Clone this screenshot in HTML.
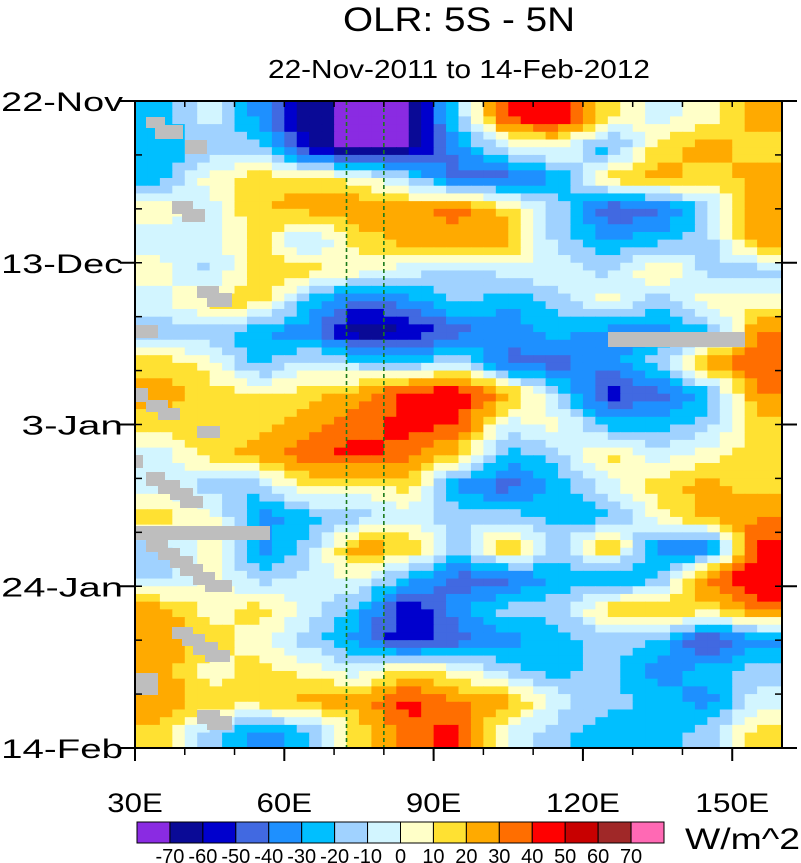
<!DOCTYPE html>
<html><head><meta charset="utf-8">
<style>
body{margin:0;background:#fff;}
svg{display:block;font-family:"Liberation Sans",Arial,sans-serif;}
</style></head>
<body>
<svg id="chart" width="801" height="863" viewBox="0 0 801 863" xmlns="http://www.w3.org/2000/svg">
<text x="459" y="31" font-size="34" text-anchor="middle" textLength="232" lengthAdjust="spacingAndGlyphs">OLR: 5S - 5N</text>
<text x="459" y="78" font-size="26" text-anchor="middle" textLength="382" lengthAdjust="spacingAndGlyphs">22-Nov-2011 to 14-Feb-2012</text>
<g id="field"></g>
<g id="missing" fill="#bebebe"></g>
<g id="axes"></g>
<g id="cbar"></g>
<text x="685" y="849" font-size="30" textLength="115" lengthAdjust="spacingAndGlyphs">W/m^2</text>
</svg>
<script>
const lons = [35,45,55,65,75,85,95,105,115,125,135,145,155];
const days = [2,6,10,14,18,22,26,30,34,38,42,46,50,54,58,62,66,70,74,78,82];
const olr = [
[-25,-5,-35,-65,-75,-75,-15,45,50,15,-5,5,25],
[-30,-15,-15,-65,-75,-70,-35,-5,5,-30,15,25,15],
[-25,5,15,15,5,-15,-45,-45,-30,15,25,15,25],
[5,-5,20,25,30,25,35,15,-15,-50,-45,-15,25],
[-5,-5,15,-15,15,25,25,25,-15,-30,-25,-15,25],
[5,-15,20,15,5,-5,-15,-5,0,-15,15,-15,-15],
[-5,15,15,-25,-45,-35,-15,-30,-15,5,-20,5,5],
[-15,-15,-30,-35,-70,-60,-45,-35,-25,-35,-35,-25,30],
[15,5,-25,-5,-15,-25,-5,-45,-45,-35,-15,25,40],
[25,15,10,15,25,45,50,25,-15,-55,-45,-25,30],
[15,15,15,25,35,45,40,-5,5,-25,-25,-15,15],
[-5,15,25,35,45,35,15,-25,-15,15,-5,5,15],
[-5,-15,-15,15,5,15,-35,-45,-25,-5,15,25,15],
[15,5,-35,-25,-15,-5,-15,-15,-25,-25,5,25,30],
[-15,5,-35,-15,30,20,-15,25,-15,25,-35,-45,45],
[-15,5,-15,-5,0,-25,-45,-45,-25,-35,-25,35,50],
[25,5,15,-5,-25,-60,-35,-15,-15,15,25,15,35],
[30,15,5,-15,-35,-60,-45,-35,-25,-15,-20,-55,-35],
[25,5,15,5,-5,15,5,-15,-25,-15,-35,-25,-15],
[30,15,15,25,25,45,30,25,-5,-15,-25,-35,-5],
[15,-15,-35,-25,15,35,45,-5,-15,-30,-25,-15,15]
];
const levels = [-70,-60,-50,-40,-30,-20,-10,0,10,20,30,40,50,60,70];
const levelLabels = ["-70","-60","-50","-40","-30","-20","-10","0","10","20","30","40","50","60","70"];
const colors = ["#8a2be2","#0a0a96","#0000cd","#4169e1","#1e90ff","#00bfff","#a0d2ff","#d2f5ff","#ffffc8","#ffe132","#ffaa00","#ff6e00","#ff0000","#c80000","#a02828","#ff69b4"];
const xTickVals = [30,60,90,120,150];
const xTickLabels = ["30E","60E","90E","120E","150E"];
const yTickDays = [0,21,42,63,84];
const yTickLabels = ["22-Nov","13-Dec","3-Jan","24-Jan","14-Feb"];

const NS="http://www.w3.org/2000/svg";
const X0=135,X1=782,Y0=101,Y1=748,LON0=30,LON1=160,D0=0,D1=84;
const xs = l => X0+(l-LON0)*(X1-X0)/(LON1-LON0);
const ys = d => Y0+(d-D0)*(Y1-Y0)/(D1-D0);
function colorFor(v){let i=0;while(i<levels.length&&v>=levels[i])i++;return colors[i];}
function sample(lon,day){
  let fi=(lon-lons[0])/(lons[1]-lons[0]); let fj=(day-days[0])/(days[1]-days[0]);
  fi=Math.max(0,Math.min(lons.length-1,fi)); fj=Math.max(0,Math.min(days.length-1,fj));
  const i0=Math.min(Math.floor(fi),lons.length-2), j0=Math.min(Math.floor(fj),days.length-2);
  const a=fi-i0,b=fj-j0;
  return olr[j0][i0]*(1-a)*(1-b)+olr[j0][i0+1]*a*(1-b)+olr[j0+1][i0]*(1-a)*b+olr[j0+1][i0+1]*a*b;
}
function mk(tag,attrs,parent){const e=document.createElementNS(NS,tag);for(const k in attrs)e.setAttribute(k,attrs[k]);parent.appendChild(e);return e;}
const field=document.getElementById('field');
const dLon=2.5,dDay=1;
for(let d=D0;d<D1;d+=dDay){
  for(let l=LON0;l<LON1;l+=dLon){
    const v=sample(l+dLon/2,d+dDay/2);
    const r=mk('rect',{x:xs(l).toFixed(2),y:ys(d).toFixed(2),width:(xs(l+dLon)-xs(l)+0.6).toFixed(2),height:(ys(d+dDay)-ys(d)+0.6).toFixed(2),fill:colorFor(v)},field);
    
    
  }
}
const miss=[[146,117,19,11],[155,125,28,14],[185,140,22,14],[172,201,21,13],[182,209,23,13],[197,286,22,12],[207,293,25,14],[135,325,23,13],[608,332,137,15],[135,388,13,14],[146,400,22,12],[158,408,22,12],[197,426,23,12],[135,455,8,13],[146,472,19,14],[158,480,22,14],[170,488,23,12],[180,496,23,12],[135,526,135,14],[146,540,22,12],[158,548,22,12],[170,556,23,12],[180,564,23,12],[193,572,22,13],[205,580,27,12],[172,627,21,12],[182,634,23,12],[193,642,25,13],[205,650,25,12],[135,673,23,22],[197,710,23,14],[207,716,25,14]];
const mg=document.getElementById('missing');
miss.forEach(m=>{const r=mk('rect',{x:m[0],y:m[1],width:m[2],height:m[3]},mg);
  
  });
const ax=document.getElementById('axes');
[72.5,80].forEach(l=>{const ln=mk('line',{x1:xs(l),x2:xs(l),y1:Y0,y2:Y1,stroke:'#1a7a1a','stroke-width':1.6,'stroke-dasharray':'4,3'},ax);
  
  });
mk('rect',{x:X0,y:Y0,width:X1-X0,height:Y1-Y0,fill:'none',stroke:'#000','stroke-width':2},ax);
for(let l=40;l<LON1;l+=10){mk('line',{x1:xs(l),x2:xs(l),y1:Y0,y2:Y0+6,stroke:'#000','stroke-width':1.5},ax);
  mk('line',{x1:xs(l),x2:xs(l),y1:Y1,y2:Y1+7,stroke:'#000','stroke-width':1.5},ax);}
for(let d=7;d<D1;d+=7){mk('line',{x1:X0,x2:X0+7,y1:ys(d),y2:ys(d),stroke:'#000','stroke-width':1.5},ax);
  mk('line',{x1:X1,x2:X1-7,y1:ys(d),y2:ys(d),stroke:'#000','stroke-width':1.5},ax);}
xTickVals.forEach((l,i)=>{mk('line',{x1:xs(l),x2:xs(l),y1:Y1,y2:Y1+13,stroke:'#000','stroke-width':2},ax);
  const t=mk('text',{x:xs(l),y:812,'font-size':27,'text-anchor':'middle',textLength:xTickLabels[i].length*18.5,lengthAdjust:'spacingAndGlyphs'},ax);t.textContent=xTickLabels[i];
  
  });
yTickDays.forEach((d,i)=>{mk('line',{x1:X0-15,x2:X0,y1:ys(d),y2:ys(d),stroke:'#000','stroke-width':2},ax);
  mk('line',{x1:X1,x2:X1+15,y1:ys(d),y2:ys(d),stroke:'#000','stroke-width':2},ax);
  const t=mk('text',{x:123,y:ys(d)+10,'font-size':27,'text-anchor':'end',textLength:yTickLabels[i].length*20.3,lengthAdjust:'spacingAndGlyphs'},ax);t.textContent=yTickLabels[i];
  
  });
const cb=document.getElementById('cbar');
const CX0=137,CX1=664,CY0=822,CY1=843,bw=(CX1-CX0)/colors.length;
colors.forEach((c,i)=>{const r=mk('rect',{x:CX0+i*bw,y:CY0,width:bw,height:CY1-CY0,fill:c,stroke:'#000','stroke-width':1},cb);
  
  });
levelLabels.forEach((s,i)=>{const t=mk('text',{x:CX0+(i+1)*bw,y:863,'font-size':20,'text-anchor':'middle'},cb);t.textContent=s;
  
  });
</script>
</body></html>
